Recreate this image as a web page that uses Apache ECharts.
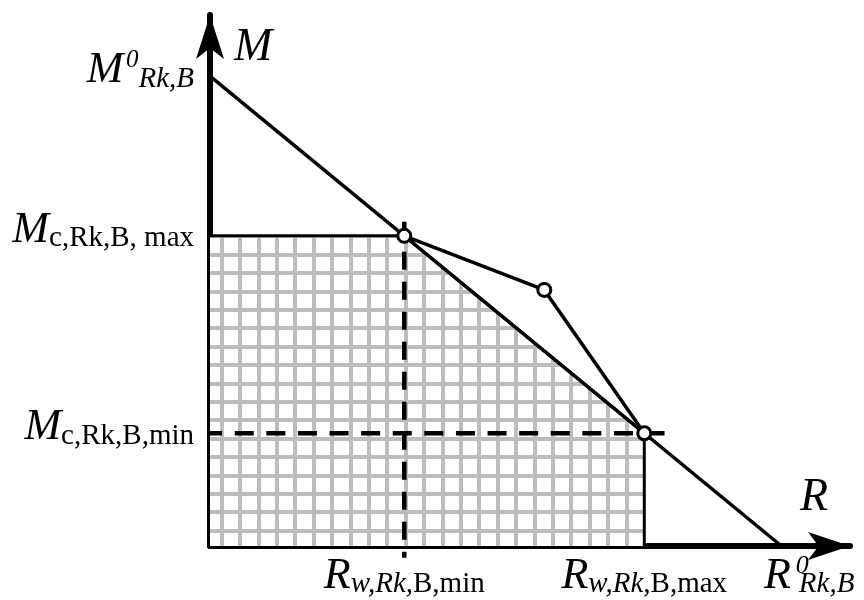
<!DOCTYPE html>
<html>
<head>
<meta charset="utf-8">
<script src="https://cdn.jsdelivr.net/npm/echarts@6/dist/echarts.min.js"></script>
<style>
  html, body { margin: 0; padding: 0; background: #fff; }
  #chart { width: 864px; height: 600px; }
</style>
</head>
<body>
<div id="chart"></div>
<script>
// characteristic values (R on the horizontal axis, M on the vertical axis)
const rMin = 3.4;   // R_w,Rk,B,min
const rMax = 7.6;   // R_w,Rk,B,max
const r0 = 10;      // R0_Rk,B
const mMin = 2.4;   // M_c,Rk,B,min
const mMax = 6.6;   // M_c,Rk,B,max
const m0 = 10;      // M0_Rk,B

const rTicks = [rMin, rMax, r0];
const mTicks = [mMin, mMax, m0];
const rTickLabels = [
  '{r|R}{wi|w,Rk,}{bu|B,min}',
  '{r|R}{wi|w,Rk,}{bu|B,max}',
  '{r|R}{sup|0}{sub|Rk,B}'
];
const mTickLabels = [
  '{m|M}{c|c,Rk,B,min}',
  '{m|M}{c|c,Rk,B, max}',
  '{m|M}{sup|0}{sub|Rk,B}'
];

// straight interaction line M0 -> R0
const linearLine = [[0, m0], [r0, 0]];
// polyline through the three marked points
const curvePoints = [[rMin, mMax], [5.85, 5.45], [rMax, mMin]];
// boundary of the hatched region
const regionPoints = [[0, mMax], [rMin, mMax], [rMax, mMin], [rMax, 0]];
// dashed guides
const guideR = [[rMin, 6.9], [rMin, -0.25]];
const guideM = [[-0.12, mMin], [7.98, mMin]];

const xAxisMax = 11.2;
const yAxisMax = 11.3;

// hatch pattern: light grey square grid
const tile = document.createElement('canvas');
const cell = 18.3, cells = 5;
tile.width = tile.height = Math.round(cell * cells);
const tctx = tile.getContext('2d');
tctx.fillStyle = '#fff';
tctx.fillRect(0, 0, tile.width, tile.height);
tctx.fillStyle = '#bdbdbd';
for (let i = 0; i < cells; i++) {
  const p = Math.round(i * cell);
  tctx.fillRect(p, 0, 4, tile.height);
  tctx.fillRect(0, p, tile.width, 4);
}

const serif = 'Liberation Serif';
const chart = echarts.init(document.getElementById('chart'));

chart.setOption({
  animation: false,
  backgroundColor: '#fff',
  grid: {
    left: 210, right: 14, top: 15, bottom: 54,
    containLabel: false,
    outerBoundsMode: 'none'
  },
  xAxis: {
    type: 'value',
    min: 0,
    max: xAxisMax,
    name: 'R',
    nameLocation: 'end',
    nameGap: -50,
    nameTextStyle: {
      fontFamily: serif, fontStyle: 'italic', fontSize: 46, color: '#000',
      align: 'left', verticalAlign: 'bottom', lineHeight: 48, padding: [0, 0, 24, 0]
    },
    axisLine: {
      show: true,
      symbol: ['none', 'arrow'],
      symbolSize: [21, 42],
      lineStyle: { color: '#000', width: 6 }
    },
    axisTick: { show: false },
    splitLine: { show: false },
    axisLabel: {
      show: true,
      customValues: rTicks,
      showMinLabel: true,
      showMaxLabel: true,
      margin: 7,
      hideOverlap: false,
      color: '#000',
      fontFamily: serif,
      formatter: (v) => rTickLabels[rTicks.indexOf(v)],
      rich: {
        r: { fontFamily: serif, fontStyle: 'italic', fontSize: 44, lineHeight: 46, align: 'left', color: '#000' },
        wi: { fontFamily: serif, fontStyle: 'italic', fontSize: 29, lineHeight: 22, verticalAlign: 'bottom', align: 'left', color: '#000' },
        bu: { fontFamily: serif, fontSize: 29, lineHeight: 22, verticalAlign: 'bottom', align: 'left', color: '#000' },
        sup: { fontFamily: serif, fontStyle: 'italic', fontSize: 26, lineHeight: 2, verticalAlign: 'top', align: 'left', width: 3, padding: [0, 0, 0, 5], color: '#000' },
        sub: { fontFamily: serif, fontStyle: 'italic', fontSize: 29, lineHeight: 1, verticalAlign: 'bottom', align: 'left', width: 0, color: '#000' }
      }
    }
  },
  yAxis: {
    type: 'value',
    min: 0,
    max: yAxisMax,
    name: 'M',
    nameLocation: 'end',
    nameGap: -33,
    nameTextStyle: {
      fontFamily: serif, fontStyle: 'italic', fontSize: 46, color: '#000',
      align: 'left', verticalAlign: 'middle', lineHeight: 48, padding: [0, 0, 0, 24]
    },
    axisLine: {
      show: true,
      symbol: ['none', 'arrow'],
      symbolSize: [21, 44],
      lineStyle: { color: '#000', width: 6 }
    },
    axisTick: { show: false },
    splitLine: { show: false },
    axisLabel: {
      show: true,
      customValues: mTicks,
      showMinLabel: true,
      showMaxLabel: true,
      margin: 16,
      hideOverlap: false,
      color: '#000',
      fontFamily: serif,
      padding: [0, 0, 11, 0],
      formatter: (v) => mTickLabels[mTicks.indexOf(v)],
      rich: {
        m: { fontFamily: serif, fontStyle: 'italic', fontSize: 44, lineHeight: 46, color: '#000' },
        c: { fontFamily: serif, fontSize: 29, lineHeight: 20, verticalAlign: 'bottom', color: '#000' },
        sup: { fontFamily: serif, fontStyle: 'italic', fontSize: 25, lineHeight: 22, verticalAlign: 'top', width: 15, color: '#000' },
        sub: { fontFamily: serif, fontStyle: 'italic', fontSize: 29, lineHeight: 12, verticalAlign: 'bottom', color: '#000' }
      }
    }
  },
  series: [
    {
      name: 'region',
      type: 'line',
      data: regionPoints,
      showSymbol: false,
      silent: true,
      clip: false,
      z: 1,
      lineStyle: { color: '#000', width: 3 },
      areaStyle: {
        opacity: 1,
        color: { image: tile, repeat: 'repeat', x: 220, y: 253 }
      }
    },
    {
      name: 'guideR',
      type: 'line',
      data: guideR,
      showSymbol: false,
      silent: true,
      clip: false,
      z: 2,
      lineStyle: { color: '#000', width: 4.5, type: [18, 12] }
    },
    {
      name: 'guideM',
      type: 'line',
      data: guideM,
      showSymbol: false,
      silent: true,
      clip: false,
      z: 2,
      lineStyle: { color: '#000', width: 4.5, type: [19, 12.6] }
    },
    {
      name: 'linear',
      type: 'line',
      data: linearLine,
      showSymbol: false,
      silent: true,
      clip: false,
      z: 3,
      lineStyle: { color: '#000', width: 3.5 }
    },
    {
      name: 'curve',
      type: 'line',
      data: curvePoints,
      symbol: 'circle',
      symbolSize: 13,
      showSymbol: true,
      silent: true,
      clip: false,
      z: 4,
      lineStyle: { color: '#000', width: 3.5 },
      itemStyle: { color: '#fff', borderColor: '#000', borderWidth: 3 }
    }
  ]
});
</script>
</body>
</html>
